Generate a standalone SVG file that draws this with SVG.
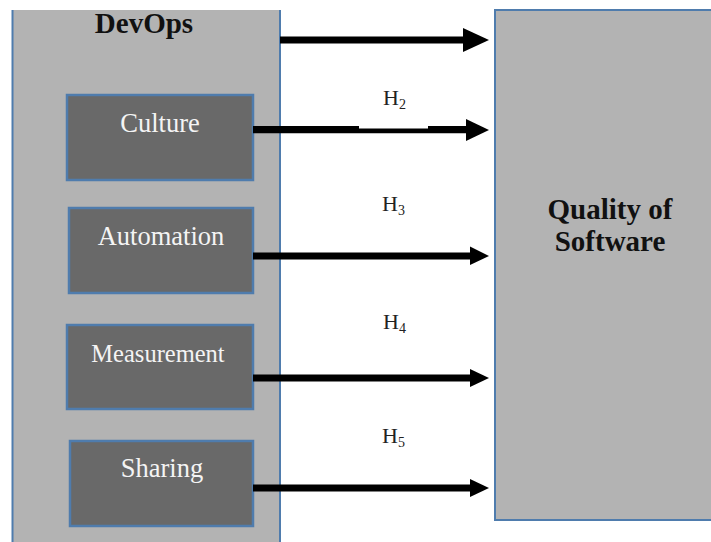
<svg xmlns="http://www.w3.org/2000/svg" width="711" height="542" viewBox="0 0 711 542">
  <style>
    .panel { fill: #b3b3b3; }
    .edge { stroke: #4f7cad; stroke-width: 2; fill: none; }
    .dim { fill: #696969; stroke: #4f7cad; stroke-width: 2.5; }
    .dimtxt { font-family: "Liberation Serif", "Times New Roman", serif; font-size: 26.5px; fill: #f4f4f4; text-anchor: middle; }
    .title { font-family: "Liberation Serif", "Times New Roman", serif; font-size: 29px; font-weight: bold; fill: #111; text-anchor: middle; }
    .hyp { font-family: "Liberation Serif", "Times New Roman", serif; font-size: 22px; fill: #222; }
    .sub { font-size: 14px; }
    .shaft { stroke: #000; stroke-width: 7; fill: none; }
    .head { fill: #000; }
  </style>

  <rect width="711" height="542" fill="#ffffff"/>

  <!-- DevOps container -->
  <g id="devops">
    <rect class="panel" x="12" y="10" width="268" height="540"/>
    <line class="edge" x1="12.5" y1="10" x2="12.5" y2="542"/>
    <line class="edge" x1="280" y1="10" x2="280" y2="542"/>
    <text class="title" x="144" y="33">DevOps</text>
  </g>

  <!-- Quality of Software -->
  <g id="quality">
    <path class="panel" d="M495,10 H711 V520 H495 Z"/>
    <path class="edge" d="M711,10 H495 V520 H711"/>
    <text class="title" x="610" y="219">Quality of</text>
    <text class="title" x="610" y="251">Software</text>
  </g>

  <g id="culture">
    <rect class="dim" x="67" y="95" width="186" height="85"/>
    <text class="dimtxt" x="160" y="132">Culture</text>
  </g>

  <g id="automation">
    <rect class="dim" x="69" y="208" width="184" height="85"/>
    <text class="dimtxt" x="161" y="245">Automation</text>
  </g>

  <g id="measurement">
    <rect class="dim" x="67" y="325" width="186" height="84"/>
    <text class="dimtxt" x="158" y="362" style="font-size:24.5px">Measurement</text>
  </g>

  <g id="sharing">
    <rect class="dim" x="70" y="441" width="183" height="85"/>
    <text class="dimtxt" x="162" y="477">Sharing</text>
  </g>

  <!-- Connectors -->
  <g id="connectors">
    <!-- DevOps -> Quality (H1) -->
    <line class="shaft" x1="280" y1="40" x2="466" y2="40"/>
    <polygon class="head" points="463,28 489,40 463,52"/>

    <!-- Culture -> Quality (H2), shaft narrows under the label -->
    <path class="head" d="M253,126 H359 V128.5 H428 V126 H467 V133.3 H253 Z"/>
    <polygon class="head" points="466,119 489,130 466,141"/>
    <text class="hyp" x="383" y="105">H<tspan class="sub" dy="4">2</tspan></text>

    <!-- Automation -> Quality (H3) -->
    <line class="shaft" x1="253" y1="256" x2="472" y2="256"/>
    <polygon class="head" points="470,246.5 489,256 470,265"/>
    <text class="hyp" x="382" y="211">H<tspan class="sub" dy="4">3</tspan></text>

    <!-- Measurement -> Quality (H4) -->
    <line class="shaft" x1="253" y1="378" x2="472" y2="378"/>
    <polygon class="head" points="470,369 489,378 470,387"/>
    <text class="hyp" x="383" y="329">H<tspan class="sub" dy="4">4</tspan></text>

    <!-- Sharing -> Quality (H5) -->
    <line class="shaft" x1="253" y1="488" x2="472" y2="488"/>
    <polygon class="head" points="470,479 489,488 470,497"/>
    <text class="hyp" x="382" y="443">H<tspan class="sub" dy="4">5</tspan></text>
  </g>
</svg>
